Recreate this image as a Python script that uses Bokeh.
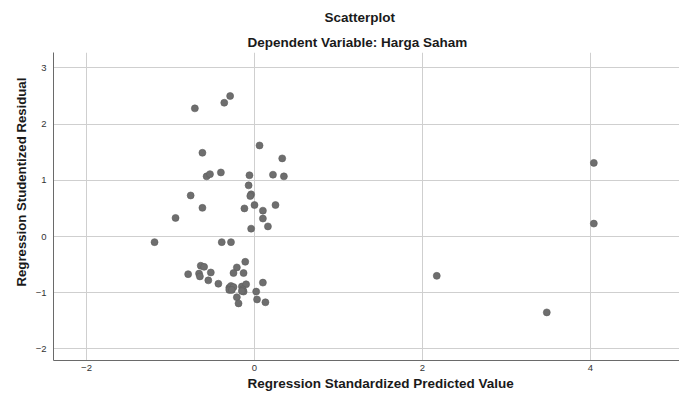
from bokeh.plotting import figure
from bokeh.models import Range1d, FixedTicker, Title, ColumnDataSource
from bokeh.embed import file_html
from bokeh.resources import INLINE

# Regression Standardized Predicted Value
pred = [-0.71, -0.36, -0.29, 0.06, -0.62, 0.33, -0.57, -0.53, -0.40, -0.06,
        0.22, 0.35, -0.07, -0.04, -0.05, -0.76, -0.62, -0.12, 0.00, 0.25,
        0.10, 0.10, -0.94, 0.16, -0.04,
        -1.19, -0.39, -0.28, -0.11, -0.64, -0.60, -0.21, -0.52, -0.79, -0.66,
        -0.65, -0.25, -0.13, -0.55, -0.43, 0.10,
        -0.30, -0.28, -0.25, -0.30, -0.27, -0.15, -0.10, -0.14, -0.13, -0.15,
        0.02, -0.21, 0.03, -0.19, 0.13,
        4.04, 4.04, 2.17, 3.48]
# Regression Studentized Residual
resid = [2.28, 2.38, 2.50, 1.62, 1.49, 1.39, 1.07, 1.11, 1.14, 1.09,
         1.10, 1.07, 0.91, 0.75, 0.72, 0.73, 0.51, 0.50, 0.56, 0.56,
         0.46, 0.32, 0.33, 0.18, 0.14,
         -0.10, -0.10, -0.10, -0.45, -0.52, -0.54, -0.55, -0.64, -0.67, -0.66,
         -0.71, -0.65, -0.65, -0.78, -0.84, -0.82,
         -0.91, -0.88, -0.90, -0.95, -0.95, -0.89, -0.85, -0.94, -0.98, -0.97,
         -0.98, -1.08, -1.12, -1.19, -1.17,
         1.31, 0.23, -0.70, -1.35]

x_ticks = [-2, 0, 2, 4]
y_ticks = [-2, -1, 0, 1, 2, 3]

title_text = "Scatterplot"
subtitle_text = "Dependent Variable: Harga Saham"
x_label = "Regression Standardized Predicted Value"
y_label = "Regression Studentized Residual"

FONT = "Liberation Sans"

p = figure(width=679, height=391, output_backend="svg", toolbar_location=None,
           x_range=Range1d(-2.393, 5.06), y_range=Range1d(-2.206, 3.274),
           min_border_left=53, min_border_right=0, min_border_top=52,
           min_border_bottom=31)
p.title.visible = False

p.add_layout(Title(text=subtitle_text, align="left", offset=194,
                   text_font=FONT, text_font_size="13.5px",
                   text_font_style="bold", text_color="#1a1a1a",
                   standoff=5), "above")
p.add_layout(Title(text=title_text, align="left", offset=271,
                   text_font=FONT, text_font_size="13.5px",
                   text_font_style="bold", text_color="#1a1a1a",
                   standoff=12), "above")

p.background_fill_color = "white"
p.border_fill_color = "white"
p.outline_line_color = None

p.xgrid.ticker = FixedTicker(ticks=x_ticks)
p.ygrid.ticker = FixedTicker(ticks=y_ticks)
p.xaxis.ticker = FixedTicker(ticks=x_ticks)
p.yaxis.ticker = FixedTicker(ticks=y_ticks)
for g in (p.xgrid, p.ygrid):
    g.grid_line_color = "#cfcfcf"
    g.grid_line_width = 1

for ax in (p.xaxis, p.yaxis):
    ax.axis_line_color = "#6a6a6a"
    ax.axis_line_width = 1
    ax.major_tick_line_color = None
    ax.minor_tick_line_color = None
    ax.major_tick_out = 0
    ax.major_tick_in = 0
    ax.major_label_text_font = FONT
    ax.major_label_text_font_size = "9.5px"
    ax.major_label_text_color = "#333333"
p.xaxis.major_label_standoff = 4
p.yaxis.major_label_standoff = 7

p.add_layout(Title(text=x_label, align="left", offset=194,
                   text_font=FONT, text_font_size="13.5px",
                   text_font_style="bold", text_color="#1a1a1a",
                   standoff=1), "below")
p.add_layout(Title(text=y_label, align="left", offset=74,
                   text_font=FONT, text_font_size="13.2px",
                   text_font_style="bold", text_color="#1a1a1a",
                   standoff=7), "left")

src = ColumnDataSource(data=dict(x=pred, y=resid))
p.scatter("x", "y", source=src, size=7, fill_color="#6e6e6e",
          line_color="#5e5e5e", line_width=0.6)

open("out.html", "w").write(file_html(p, INLINE))
